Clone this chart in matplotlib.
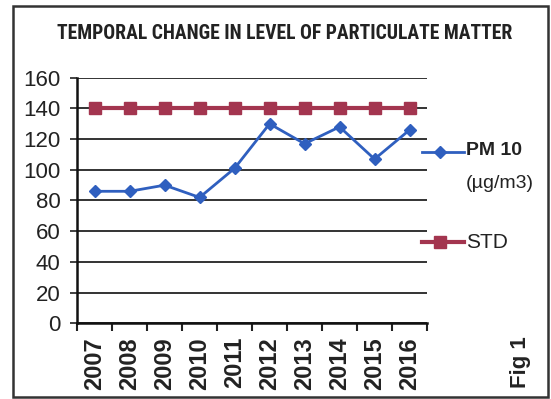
import matplotlib

matplotlib.use("Agg")
import matplotlib.pyplot as plt
from matplotlib.lines import Line2D
from matplotlib.patches import Rectangle

years = ["2007", "2008", "2009", "2010", "2011", "2012", "2013", "2014", "2015", "2016"]
pm10 = [86, 86, 90, 82, 101, 130, 117, 128, 107, 126]
std = [140, 140, 140, 140, 140, 140, 140, 140, 140, 140]
y_ticks = [0, 20, 40, 60, 80, 100, 120, 140, 160]

BLUE = "#2F5FBF"
MAROON = "#A3354F"
INK = "#222222"

plt.rcParams["font.family"] = ["Liberation Sans", "DejaVu Sans"]

fig = plt.figure(figsize=(5.51, 3.99), dpi=100)
ax = fig.add_axes([0.140, 0.190, 0.635, 0.615])

x = list(range(len(years)))
ax.plot(x, std, color=MAROON, lw=3, marker="s", ms=9, mec=MAROON, mfc=MAROON, zorder=3)
ax.plot(x, pm10, color=BLUE, lw=2, marker="D", ms=6, mec=BLUE, mfc=BLUE, zorder=4)

ax.set_xlim(-0.5, len(years) - 0.5)
ax.set_ylim(0, 160)
ax.set_yticks(y_ticks)
ax.set_yticklabels([str(v) for v in y_ticks], fontsize=16, color=INK)
ax.yaxis.grid(True, color="#333333", lw=1.4)
ax.set_axisbelow(True)

# boundary ticks between categories, labels centred on categories
ax.set_xticks([i - 0.5 for i in range(len(years) + 1)])
ax.set_xticklabels([])
ax.set_xticks(x, minor=True)
ax.set_xticklabels(years, minor=True, rotation=90, fontsize=17, fontweight="bold", color=INK)
ax.tick_params(axis="x", which="minor", length=0, pad=10)
ax.tick_params(axis="x", which="major", length=6, width=1.5, direction="out", color=INK)
ax.tick_params(axis="y", length=5, width=1.3, direction="out", color="#333333", pad=7)

for side in ("top", "right"):
    ax.spines[side].set_visible(False)
for side in ("left", "bottom"):
    ax.spines[side].set_linewidth(1.8)
    ax.spines[side].set_color("#111111")

title = fig.text(0.516, 0.916, "TEMPORAL CHANGE IN LEVEL OF PARTICULATE MATTER",
                 family=["Roboto Condensed", "Open Sans Condensed", "Liberation Sans Narrow",
                         "DejaVu Sans"],
                 fontweight="bold", fontsize=12, ha="center", va="center", color=INK)
# scale the title so it spans the heading band
fig.canvas.draw()
w = title.get_window_extent().width
title.set_fontsize(12 * 455 / w)

# legend entries: short line with a marker in the middle
for y, col, lw, mk, ms in [(0.620, BLUE, 2, "D", 6), (0.393, MAROON, 3, "s", 8)]:
    fig.add_artist(Line2D([0.766, 0.799, 0.843], [y, y, y], color=col, lw=lw,
                          marker=mk, ms=ms, markevery=[1], transform=fig.transFigure))
fig.text(0.846, 0.624, "PM 10", fontsize=14, fontweight="bold", va="center", color=INK)
fig.text(0.846, 0.539, "(\u00b5g/m3)", fontsize=14, va="center", color=INK)
fig.text(0.846, 0.391, "STD", fontsize=15, va="center", color=INK)

fig.text(0.944, 0.093, "Fig 1", rotation=90, fontsize=16, fontweight="bold",
         ha="center", va="center", color=INK)

fig.add_artist(Rectangle((0.024, 0.006), 0.97, 0.98, fill=False, lw=1.8,
                         ec="#333333", transform=fig.transFigure))

fig.savefig("out.png", dpi=100)
